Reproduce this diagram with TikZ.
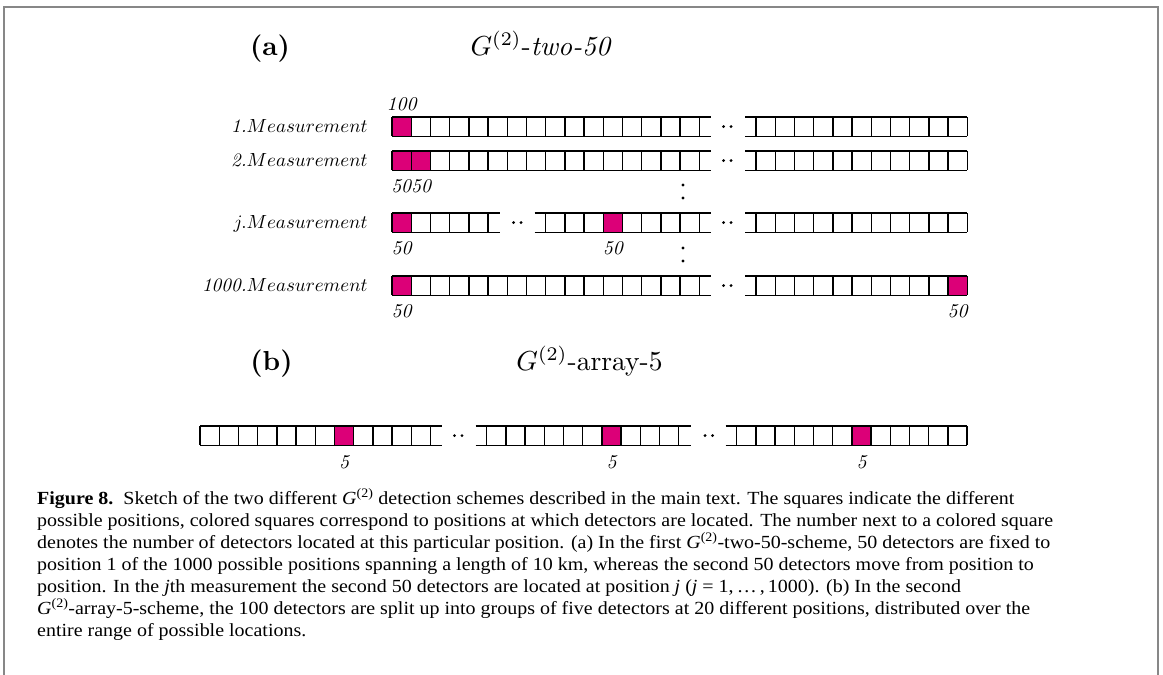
\RequirePackage{fix-cm}
\documentclass[tikz,border=0pt]{standalone}
\usepackage{fontspec}
\newfontfamily\capfont[FakeStretch=1.08]{Liberation Serif}
\definecolor{pinkc}{RGB}{220,0,120}
\definecolor{framec}{RGB}{135,135,135}
\def\sqsz{19.2}
\newcommand{\segm}[5]{%
  \draw[cell] ({#1-#4},#3) -- ({#1+#2*\sqsz+#5},#3);
  \draw[cell] ({#1-#4},{#3+\sqsz}) -- ({#1+#2*\sqsz+#5},{#3+\sqsz});
  \foreach \k in {0,...,#2} \draw[cell] ({#1+\k*\sqsz},#3) -- ++(0,\sqsz);
}
\newcommand{\hotsq}[2]{\fill[pinkc] (#1,#2) rectangle ++(\sqsz,\sqsz);}
\newcommand{\hdts}[2]{\fill (#1,#2) circle[radius=1.6pt]; \fill ({#1+7.5},#2) circle[radius=1.6pt];}
\newcommand{\vdts}[2]{\fill (#1,#2) circle[radius=1.6pt]; \fill (#1,{#2+13}) circle[radius=1.6pt];}
\begin{document}
\begin{tikzpicture}[x=1pt,y=-1pt,
  cell/.style={line width=1.4pt, black, line cap=square},
  rowlab/.style={anchor=base east, inner sep=0pt, scale=1.9, font=\fontsize{10}{12}\selectfont},
  numlab/.style={anchor=base, inner sep=0pt, scale=1.95, font=\fontsize{10}{12}\selectfont\itshape},
  ttl/.style={anchor=base, inner sep=0pt, scale=2.75, font=\fontsize{10}{12}\selectfont},
  capline/.style={anchor=base west, inner sep=0pt, font=\capfont\fontsize{18.5}{22}\selectfont}
]
\useasboundingbox (0,0) rectangle (1163,675);
% frame
\draw[framec, line width=2.5pt] (4,676) -- (4,7) -- (1158,7) -- (1158,676);

% titles
\node[ttl, font=\fontsize{10}{12}\selectfont\bfseries] (ta) at (270,55.5) {(a)};
\node[ttl] (tga) at (541,55.5) {$G^{(2)}$-\textit{two-50}};
\node[ttl, font=\fontsize{10}{12}\selectfont\bfseries] (tb) at (271.5,370) {(b)};
\node[ttl] (tgb) at (589.5,370) {$G^{(2)}$-array-5};

% row labels
\node[rowlab] (r1) at (368,132) {\textit{1.}$Measurement$};
\node[rowlab] (r2) at (368,166) {\textit{2.}$Measurement$};
\node[rowlab] (rj) at (368,228) {$j.Measurement$};
\node[rowlab] (rk) at (368,291) {\textit{1000.}$Measurement$};

% row 1
\hotsq{392}{117}
\segm{392}{16}{117}{0}{12}
\hdts{723.5}{126.6}
\segm{756}{11}{117}{11}{0}
\node[numlab] (n1) at (401.6,110) {100};

% row 2
\hotsq{392}{151}
\hotsq{411.2}{151}
\segm{392}{16}{151}{0}{12}
\hdts{723.5}{160.6}
\segm{756}{11}{151}{11}{0}
\node[numlab] (n2) at (411.2,192.5) {5050};

\vdts{683}{185}

% row j
\hotsq{392}{213}
\segm{392}{5}{213}{0}{12}
\hdts{513.5}{222.6}
\hotsq{603.2}{213}
\segm{545.6}{8}{213}{11}{12}
\hdts{723.5}{222.6}
\segm{756}{11}{213}{11}{0}
\node[numlab] (nj1) at (401.6,254.5) {50};
\node[numlab] (nj2) at (612.8,254.5) {50};

\vdts{683}{248}

% row 1000
\hotsq{392}{276}
\hotsq{948}{276}
\segm{392}{16}{276}{0}{12}
\hdts{723.5}{285.6}
\segm{756}{11}{276}{11}{0}
\node[numlab] (nk1) at (401.6,317.5) {50};
\node[numlab] (nk2) at (957.6,317.5) {50};

% row (b)
\hotsq{334.4}{426}
\segm{200}{12}{426}{0}{12}
\hdts{454.5}{435.6}
\hotsq{601.9}{426}
\segm{486.7}{10}{426}{11}{12}
\hdts{705}{435.6}
\hotsq{851.9}{426}
\segm{736.7}{12}{426}{11}{0}
\node[numlab] (b1) at (344,468) {5};
\node[numlab] (b2) at (611.5,468) {5};
\node[numlab] (b3) at (861.5,468) {5};

% caption
\node[capline] (c1) at (37,504) {\textbf{Figure 8.}\ \ Sketch of the two different {\itshape G}\textsuperscript{(2)} detection schemes described in the main text. The squares indicate the different};
\node[capline] (c2) at (37,526) {possible positions, colored squares correspond to positions at which detectors are located. The number next to a colored square};
\node[capline] (c3) at (37,548) {denotes the number of detectors located at this particular position. (a) In the first {\itshape G}\textsuperscript{(2)}-two-50-scheme, 50 detectors are fixed to};
\node[capline] (c4) at (37,570) {position 1 of the 1000 possible positions spanning a length of 10 km, whereas the second 50 detectors move from position to};
\node[capline] (c5) at (37,592) {position. In the {\itshape j}th measurement the second 50 detectors are located at position {\itshape j} ({\itshape j} = 1,\,\ldots\,,\,1000). (b) In the second};
\node[capline] (c6) at (37,614) {{\itshape G}\textsuperscript{(2)}-array-5-scheme, the 100 detectors are split up into groups of five detectors at 20 different positions, distributed over the};
\node[capline] (c7) at (37,636) {entire range of possible locations.};
\end{tikzpicture}
\end{document}
